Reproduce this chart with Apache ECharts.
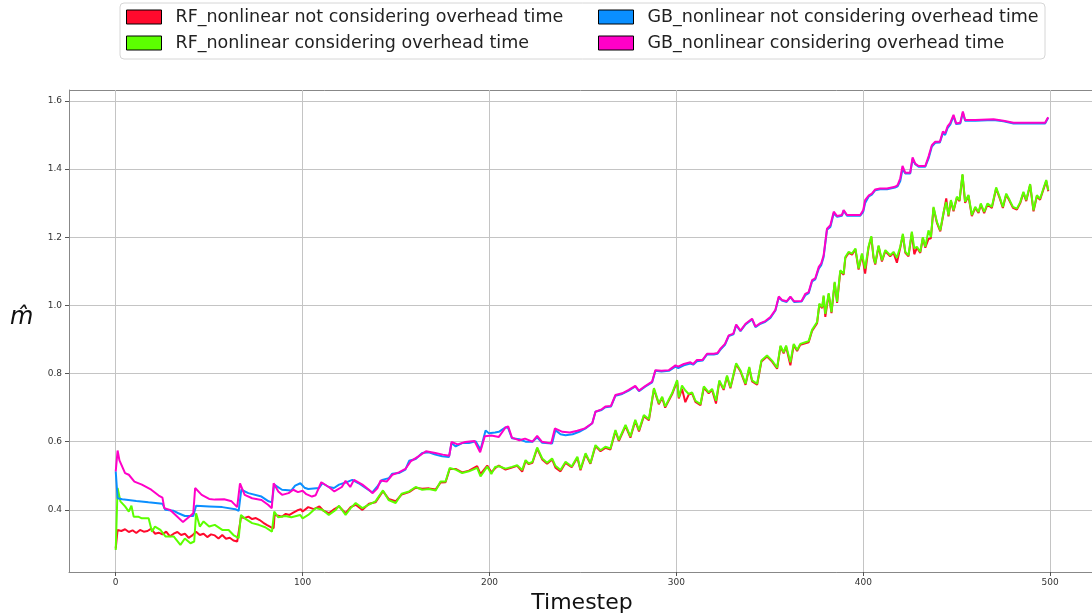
<!DOCTYPE html>
<html>
<head>
<meta charset="utf-8">
<script src="https://cdn.jsdelivr.net/npm/echarts@6/dist/echarts.min.js"></script>
<style>
  html, body { margin: 0; padding: 0; background: #fff; }
  #chart { width: 1092px; height: 615px; }
</style>
</head>
<body>
<div id="chart"></div>
<script>
// Series names (legend order)
const seriesNames = [
  'RF_nonlinear not considering overhead time',
  'RF_nonlinear considering overhead time',
  'GB_nonlinear not considering overhead time',
  'GB_nonlinear considering overhead time'
];
const seriesColors = ['#ff0a2d', '#5cff00', '#0a8fff', '#ff00c8'];

// Tick labels
const xTicks = [0, 100, 200, 300, 400, 500];
const yTicks = [0.4, 0.6, 0.8, 1.0, 1.2, 1.4, 1.6];

// [timestep, m-hat] samples per series
const rfNot = [[0,0.287],[1,0.341],[3,0.338],[5,0.343],[7,0.335],[9,0.340],[11,0.332],[13,0.341],[15,0.336],[17,0.338],[19,0.345],[21,0.330],[23,0.333],[25,0.328],[27,0.336],[29,0.322],[31,0.330],[33,0.335],[35,0.326],[37,0.330],[39,0.318],[41,0.325],[43,0.336],[45,0.326],[47,0.330],[49,0.320],[51,0.328],[53,0.325],[55,0.316],[57,0.326],[59,0.315],[61,0.318],[63,0.310],[65,0.307],[66,0.306],[67,0.378],[69,0.376],[71,0.380],[73,0.373],[75,0.376],[77,0.370],[79,0.362],[81,0.355],[83,0.349],[84.5,0.346],[85,0.385],[87,0.383],[89,0.380],[91,0.388],[93,0.385],[95,0.392],[97,0.398],[99,0.402],[100,0.395],[103,0.408],[106,0.402],[109,0.410],[111,0.398],[114,0.390],[117,0.402],[119.5,0.410],[123,0.390],[125.7,0.408],[128.4,0.415],[132,0.400],[135.5,0.418],[139,0.422],[143,0.455],[146,0.432],[149.8,0.425],[153,0.445],[157,0.452],[160.5,0.465],[164,0.462],[167.6,0.463],[171.2,0.460],[173.8,0.480],[176.5,0.481],[178.7,0.520],[181.9,0.520],[185.4,0.510],[189,0.515],[193.4,0.528],[195.2,0.505],[198.8,0.530],[201,0.510],[203,0.522],[205,0.530],[208.6,0.518],[212,0.524],[214.8,0.529],[217.5,0.512],[219.3,0.543],[221,0.534],[223,0.538],[225.5,0.580],[228.2,0.548],[230.8,0.535],[233.5,0.548],[235.3,0.524],[238,0.513],[240.7,0.538],[244,0.525],[247,0.553],[248.7,0.516],[251.4,0.563],[254,0.535],[256.7,0.587],[259.4,0.572],[262,0.582],[264.7,0.577],[267.4,0.631],[269.2,0.602],[272.8,0.646],[275.4,0.612],[278,0.661],[280,0.630],[282.6,0.675],[285.3,0.663],[288,0.754],[290.6,0.710],[292.4,0.729],[294,0.700],[297.7,0.739],[300.4,0.778],[301.3,0.727],[303,0.755],[304.8,0.716],[306.6,0.738],[308.4,0.742],[310.2,0.717],[312.9,0.707],[314.7,0.759],[317.3,0.742],[319.1,0.752],[321.2,0.712],[323,0.777],[325.3,0.752],[327.1,0.791],[328.9,0.757],[332,0.827],[334.3,0.806],[337,0.767],[339,0.816],[340.5,0.777],[343.2,0.767],[345.5,0.835],[348.5,0.850],[351.2,0.835],[353.9,0.814],[355.7,0.879],[357.4,0.859],[358.7,0.879],[361,0.824],[362.8,0.884],[364.6,0.866],[366.3,0.884],[369,0.889],[370.8,0.892],[372.6,0.925],[375.3,0.948],[376.5,1.002],[378,0.992],[378.8,1.026],[379.7,0.966],[381.5,1.033],[383,0.977],[384.7,1.066],[386,1.007],[387.7,1.100],[389.5,1.090],[390.4,1.139],[392.2,1.154],[394,1.149],[395.8,1.164],[397.5,1.105],[399.3,1.149],[401,1.093],[402.8,1.169],[404.3,1.200],[405.5,1.139],[406.4,1.120],[408.2,1.173],[410,1.129],[411.8,1.159],[414.4,1.144],[416.2,1.154],[418,1.125],[419.8,1.169],[421.2,1.207],[422.5,1.154],[424.2,1.144],[426,1.213],[427.3,1.150],[428.7,1.169],[430.5,1.154],[431.9,1.197],[433.2,1.169],[434.9,1.195],[436.2,1.197],[437.6,1.286],[439.4,1.242],[441.2,1.217],[443,1.271],[444.4,1.314],[445.6,1.261],[446.9,1.306],[448.3,1.276],[450.1,1.316],[451.5,1.306],[453.1,1.382],[454.5,1.301],[456.3,1.321],[458.1,1.262],[459.9,1.286],[461.7,1.271],[462.9,1.296],[464.7,1.271],[466.5,1.296],[468.8,1.286],[471.1,1.343],[472.9,1.316],[474.7,1.286],[476.5,1.325],[478.3,1.306],[480.1,1.286],[482.2,1.281],[484,1.300],[485.7,1.330],[487.2,1.306],[489.3,1.353],[491.1,1.276],[492.9,1.320],[494.6,1.310],[496.4,1.340],[497.9,1.365],[499,1.335]];

const rfCons = [[0,0.282],[1,0.464],[2.5,0.425],[5,0.410],[7,0.395],[8.4,0.412],[9.6,0.380],[12,0.380],[14,0.375],[17.6,0.375],[19.4,0.336],[21,0.351],[23.9,0.341],[26.6,0.322],[31,0.322],[34.6,0.297],[37,0.316],[40,0.302],[42,0.307],[43,0.390],[45,0.351],[47,0.366],[50,0.351],[53,0.356],[57,0.341],[60.4,0.341],[63,0.326],[65.8,0.317],[67,0.385],[69,0.375],[73,0.361],[76.5,0.356],[80,0.349],[83.6,0.336],[84.8,0.395],[87,0.378],[90.7,0.382],[94,0.378],[98.7,0.385],[100,0.375],[103,0.385],[107,0.405],[110.6,0.400],[114,0.385],[117.7,0.400],[119.5,0.412],[123,0.385],[125.7,0.405],[128.4,0.420],[132,0.405],[135.5,0.415],[139,0.425],[143,0.457],[146,0.429],[149.8,0.420],[153,0.447],[157,0.454],[160.5,0.467],[164,0.459],[167.6,0.461],[171.2,0.457],[173.8,0.483],[176.5,0.483],[178.7,0.523],[181.9,0.518],[185.4,0.508],[189,0.513],[193.4,0.523],[195.2,0.498],[198.8,0.527],[201,0.505],[203,0.526],[205,0.528],[208.6,0.521],[212,0.526],[214.8,0.531],[217.5,0.517],[219.3,0.546],[221,0.536],[223,0.541],[225.5,0.583],[228.2,0.551],[230.8,0.538],[233.5,0.551],[235.3,0.529],[238,0.517],[240.7,0.541],[244,0.527],[247,0.556],[248.7,0.519],[251.4,0.566],[254,0.537],[256.7,0.590],[259.4,0.575],[262,0.585],[264.7,0.580],[267.4,0.634],[269.2,0.605],[272.8,0.649],[275.4,0.615],[278,0.664],[280,0.634],[282.6,0.678],[285.3,0.666],[288,0.757],[290.6,0.713],[292.4,0.732],[294,0.703],[297.7,0.742],[300.4,0.781],[301.3,0.730],[303,0.765],[304.8,0.750],[306.6,0.740],[308.4,0.745],[310.2,0.720],[312.9,0.710],[314.7,0.762],[317.3,0.745],[319.1,0.755],[321.2,0.720],[323,0.780],[325.3,0.755],[327.1,0.794],[328.9,0.760],[332,0.830],[334.3,0.809],[337,0.770],[339,0.819],[340.5,0.780],[343.2,0.770],[345.5,0.838],[348.5,0.853],[351.2,0.838],[353.9,0.817],[355.7,0.882],[357.4,0.862],[358.7,0.882],[361,0.833],[362.8,0.887],[364.6,0.869],[366.3,0.887],[369,0.892],[370.8,0.895],[372.6,0.928],[375.3,0.951],[376.5,1.005],[378,0.995],[378.8,1.029],[379.7,0.975],[381.5,1.036],[383,0.980],[384.7,1.069],[386,1.010],[387.7,1.103],[389.5,1.093],[390.4,1.142],[392.2,1.157],[394,1.152],[395.8,1.167],[397.5,1.108],[399.3,1.152],[401,1.108],[402.8,1.172],[404.3,1.203],[405.5,1.142],[406.4,1.123],[408.2,1.176],[410,1.132],[411.8,1.162],[414.4,1.147],[416.2,1.157],[418,1.140],[419.8,1.172],[421.2,1.210],[422.5,1.157],[424.2,1.147],[426,1.216],[427.3,1.167],[428.7,1.172],[430.5,1.157],[431.9,1.200],[433.2,1.172],[434.9,1.220],[436.2,1.200],[437.6,1.289],[439.4,1.245],[441.2,1.220],[443,1.274],[444.4,1.303],[445.6,1.264],[446.9,1.309],[448.3,1.279],[450.1,1.319],[451.5,1.309],[453.1,1.385],[454.5,1.304],[456.3,1.324],[458.1,1.265],[459.9,1.289],[461.7,1.274],[462.9,1.299],[464.7,1.274],[466.5,1.299],[468.8,1.289],[471.1,1.346],[472.9,1.319],[474.7,1.289],[476.5,1.328],[478.3,1.309],[480.1,1.289],[482.2,1.284],[484,1.303],[485.7,1.333],[487.2,1.309],[489.3,1.356],[491.1,1.279],[492.9,1.323],[494.6,1.313],[496.4,1.343],[497.9,1.368],[499,1.338]];

const gbNot = [[0,0.513],[1,0.434],[3.5,0.431],[11,0.426],[17.5,0.422],[25,0.418],[26.5,0.400],[31,0.397],[33.5,0.390],[37,0.382],[41.5,0.382],[43,0.412],[50,0.410],[57,0.408],[64,0.402],[65.8,0.397],[67.2,0.459],[71,0.449],[78,0.439],[81.8,0.425],[83.6,0.422],[84.8,0.474],[89,0.459],[94,0.457],[96,0.471],[98.8,0.478],[101,0.465],[103,0.461],[108.8,0.464],[110.6,0.478],[114,0.467],[116.8,0.464],[119.5,0.474],[123,0.480],[126.6,0.488],[130,0.478],[133.7,0.464],[137.3,0.451],[140,0.469],[142.6,0.488],[146.2,0.493],[148,0.506],[151.5,0.508],[155,0.518],[157,0.544],[160.5,0.549],[164,0.567],[167.5,0.569],[171,0.562],[174.7,0.557],[178.3,0.555],[179.7,0.596],[181.9,0.586],[185.4,0.596],[189,0.596],[192.6,0.601],[195.2,0.576],[197.9,0.633],[199.7,0.625],[203,0.627],[205,0.629],[208.6,0.642],[210,0.640],[212,0.610],[216,0.607],[219.3,0.600],[223,0.600],[225.5,0.613],[228.2,0.597],[233.5,0.595],[235.3,0.634],[238,0.622],[240.7,0.619],[244.5,0.622],[248,0.629],[251.4,0.639],[255,0.654],[256.7,0.688],[260,0.693],[262,0.701],[265,0.703],[267.4,0.735],[271,0.740],[274.5,0.750],[278,0.762],[280,0.748],[283.5,0.762],[287,0.774],[288.8,0.808],[292,0.806],[296,0.808],[299.5,0.820],[301,0.816],[304,0.824],[307.5,0.829],[309,0.826],[311,0.836],[314,0.838],[316.4,0.856],[320,0.856],[322,0.858],[323.6,0.870],[326,0.884],[328,0.910],[330.5,0.915],[332,0.942],[334.3,0.924],[337,0.944],[340.5,0.959],[342.3,0.936],[345,0.946],[347.6,0.952],[350.3,0.963],[353,0.985],[354.8,1.024],[356.5,1.014],[359,1.010],[361,1.024],[363,1.010],[367,1.011],[369,1.030],[370.8,1.036],[372.6,1.070],[374.3,1.076],[376.2,1.108],[377.5,1.118],[378.8,1.142],[380.6,1.222],[382.4,1.230],[384.2,1.270],[386,1.260],[388.6,1.263],[389.5,1.278],[391.3,1.263],[398.4,1.263],[400,1.275],[401,1.300],[403,1.320],[404.6,1.325],[406.4,1.338],[409,1.341],[412.7,1.341],[417,1.346],[418.4,1.349],[419.8,1.365],[421,1.400],[422.5,1.387],[425.1,1.387],[426.4,1.430],[427.8,1.414],[429.6,1.407],[433.2,1.407],[435,1.432],[436.7,1.466],[438.5,1.477],[441,1.478],[442.6,1.505],[443.8,1.500],[445.1,1.520],[446.5,1.530],[448.3,1.555],[449.7,1.532],[451.9,1.534],[453.3,1.565],[454.5,1.542],[460,1.542],[469.7,1.544],[475,1.540],[480.4,1.534],[487.5,1.534],[493,1.534],[497.3,1.534],[498.6,1.547],[499,1.550]];

const gbCons = [[0,0.513],[1,0.574],[2,0.545],[5,0.508],[7,0.503],[8,0.506],[10,0.483],[14,0.474],[19,0.459],[23,0.442],[25,0.436],[26,0.405],[29,0.400],[32,0.385],[36,0.364],[39,0.378],[41.5,0.390],[42.5,0.464],[46,0.444],[50,0.432],[53,0.430],[58,0.431],[62,0.425],[65,0.408],[66.5,0.478],[69,0.444],[73,0.434],[78,0.429],[81.5,0.415],[83.5,0.405],[84.5,0.478],[87,0.454],[89,0.444],[92.5,0.449],[95,0.459],[97.5,0.452],[100,0.456],[102,0.446],[105,0.439],[107,0.443],[110,0.481],[114,0.467],[117,0.454],[121,0.467],[123,0.485],[125.5,0.467],[127.5,0.488],[132,0.474],[135.5,0.459],[137.5,0.449],[140,0.463],[141.7,0.486],[145,0.483],[148,0.503],[151.5,0.510],[155,0.520],[157.8,0.542],[162,0.557],[166,0.572],[171,0.567],[175,0.562],[178.5,0.559],[179.7,0.599],[183,0.592],[187,0.599],[192,0.602],[195,0.569],[197.5,0.616],[201,0.618],[205,0.614],[208.6,0.642],[210,0.645],[212,0.612],[216,0.604],[219,0.609],[223,0.600],[225.5,0.617],[228,0.600],[233,0.595],[235,0.639],[239,0.629],[243,0.627],[247,0.632],[251,0.639],[255,0.654],[256.7,0.688],[260,0.695],[262,0.703],[265,0.705],[267.4,0.737],[271,0.742],[274.5,0.752],[278,0.764],[280,0.750],[283.5,0.764],[287,0.776],[288.8,0.810],[292,0.808],[296,0.810],[299.5,0.824],[301,0.820],[304,0.828],[307.5,0.833],[309,0.828],[311,0.840],[314,0.840],[316.4,0.858],[320,0.858],[322,0.860],[323.6,0.873],[326,0.887],[328,0.912],[330.5,0.917],[332,0.944],[334.3,0.926],[337,0.946],[340.5,0.961],[342.3,0.938],[345,0.948],[347.6,0.954],[350.3,0.966],[353,0.987],[354.8,1.026],[356.5,1.016],[359,1.012],[361,1.026],[363,1.012],[367,1.013],[369,1.034],[370.8,1.039],[372.6,1.074],[374.3,1.079],[376.2,1.113],[377.5,1.123],[378.8,1.147],[380.6,1.225],[382.4,1.235],[384.2,1.275],[386,1.262],[388.6,1.265],[389.5,1.280],[391.3,1.265],[398.4,1.265],[400,1.280],[401,1.309],[403,1.323],[404.6,1.328],[406.4,1.340],[409,1.343],[412.7,1.343],[417,1.348],[418.4,1.353],[419.8,1.373],[421,1.409],[422.5,1.389],[425.1,1.389],[426.4,1.434],[427.8,1.416],[429.6,1.409],[433.2,1.409],[435,1.438],[436.7,1.470],[438.5,1.480],[441,1.480],[442.6,1.510],[443.8,1.505],[445.1,1.525],[446.5,1.535],[448.3,1.559],[449.7,1.534],[451.9,1.536],[453.3,1.569],[454.5,1.544],[460,1.544],[469.7,1.546],[475,1.542],[480.4,1.536],[487.5,1.536],[493,1.536],[497.3,1.536],[498.6,1.549],[499,1.552]];

const seriesData = [rfNot, rfCons, gbNot, gbCons];

const chart = echarts.init(document.getElementById('chart'), null, { renderer: 'canvas' });

const FONT = 'DejaVu Sans';
const legendBase = {
  orient: 'vertical',
  padding: 0,
  itemWidth: 35,
  itemHeight: 14,
  itemGap: 8,
  top: 8,
  icon: 'rect',
  itemStyle: { borderColor: '#000', borderWidth: 1 },
  textStyle: { fontFamily: FONT, fontSize: 17.5, color: '#222', padding: [0, 0, 0, 9] },
  selectedMode: false
};

// Plot frame (pixels)
const PLOT_LEFT = 69, PLOT_TOP = 90, PLOT_W = 1026, PLOT_H = 482;

chart.setOption({
  animation: false,
  backgroundColor: '#fff',
  color: seriesColors,
  legend: [
    Object.assign({}, legendBase, { left: 126, data: [seriesNames[0], seriesNames[1]] }),
    Object.assign({}, legendBase, { left: 598, data: [seriesNames[2], seriesNames[3]] })
  ],
  graphic: [
    {
      type: 'rect', z: -1, silent: true,
      shape: { x: 120, y: 3, width: 925, height: 56, r: 4 },
      style: { fill: '#fff', stroke: '#d6d6d6', lineWidth: 1 }
    },
    {
      type: 'text', silent: true,
      x: 10, y: 318,
      style: {
        text: 'm\u0302', fontFamily: FONT, fontStyle: 'italic', fontSize: 24,
        fill: '#111', verticalAlign: 'middle'
      }
    },
    {
      type: 'line', silent: true,
      shape: { x1: PLOT_LEFT, y1: PLOT_TOP + 0.5, x2: 1092, y2: PLOT_TOP + 0.5 },
      style: { stroke: '#888', lineWidth: 1 }
    }
  ],
  grid: {
    left: PLOT_LEFT, top: PLOT_TOP, width: PLOT_W, height: PLOT_H,
    containLabel: false, outerBoundsMode: 'none'
  },
  xAxis: {
    type: 'value',
    min: -25, max: 524,
    name: 'Timestep',
    nameLocation: 'middle',
    nameGap: 15,
    nameTextStyle: { fontFamily: FONT, fontSize: 22, color: '#111' },
    axisLine: { show: true, onZero: false, lineStyle: { color: '#888', width: 1 } },
    axisTick: { show: true, length: 4, customValues: xTicks, lineStyle: { color: '#555' } },
    axisLabel: { customValues: xTicks, fontFamily: FONT, fontSize: 9, color: '#333', margin: 6 },
    splitLine: { show: true, lineStyle: { color: '#c4c4c4', width: 1 } }
  },
  yAxis: {
    type: 'value',
    min: 0.2176, max: 1.632,
    axisLine: { show: true, onZero: false, lineStyle: { color: '#888', width: 1 } },
    axisTick: { show: true, length: 4, customValues: yTicks, lineStyle: { color: '#555' } },
    axisLabel: {
      customValues: yTicks, fontFamily: FONT, fontSize: 9, color: '#333', margin: 7,
      formatter: v => v.toFixed(1)
    },
    splitLine: { show: true, lineStyle: { color: '#c4c4c4', width: 1 } }
  },
  series: seriesNames.map((name, i) => ({
    name: name,
    type: 'line',
    data: seriesData[i],
    showSymbol: false,
    symbol: 'none',
    lineStyle: { width: 2, color: seriesColors[i] },
    itemStyle: { color: seriesColors[i] },
    z: 2 + i
  }))
});
</script>
</body>
</html>
